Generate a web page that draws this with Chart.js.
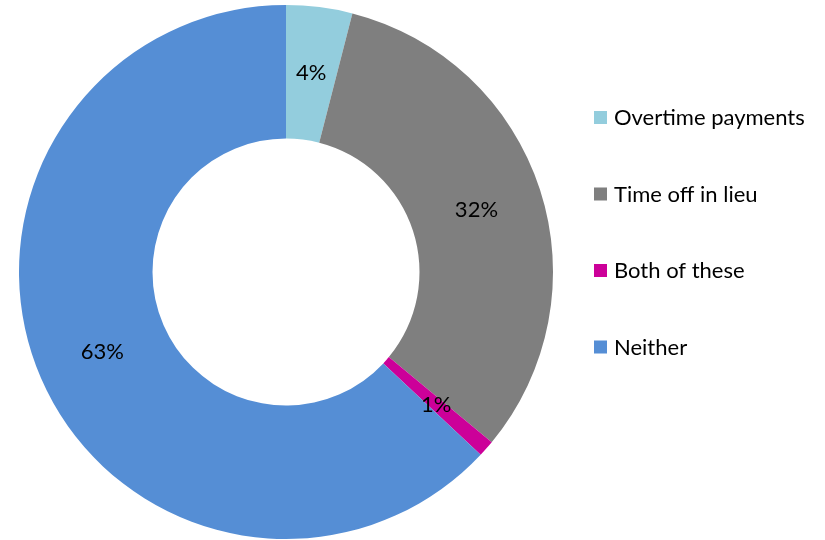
<!DOCTYPE html>
<html>
<head>
<meta charset="utf-8">
<script src="https://cdn.jsdelivr.net/npm/chart.js@4/dist/chart.umd.min.js"></script>
<style>
  html, body { margin: 0; padding: 0; background: #fff; }
  #wrap { position: relative; width: 825px; height: 540px; }
</style>
</head>
<body>
<div id="wrap"><canvas id="donut" width="825" height="540"></canvas></div>
<script>
// ── DATA ────────────────────────────────────────────────────────────────
const CATEGORIES = ['Overtime payments', 'Time off in lieu', 'Both of these', 'Neither'];
const SHARES     = [4, 32, 1, 63];
const COLORS     = ['#93CDDD', '#7F7F7F', '#CC0099', '#558ED5'];

const FONT = '"Lato", "Open Sans", sans-serif';

// percentage labels sit in the middle of each ring segment
const sliceLabels = {
  id: 'sliceLabels',
  afterDatasetsDraw(chart) {
    const { ctx } = chart;
    const meta = chart.getDatasetMeta(0);
    ctx.save();
    ctx.font = `22px ${FONT}`;
    ctx.fillStyle = '#000';
    ctx.textAlign = 'center';
    ctx.textBaseline = 'middle';
    meta.data.forEach((arc, i) => {
      const p = arc.tooltipPosition();
      ctx.fillText(SHARES[i] + '%', p.x, p.y);
    });
    ctx.restore();
  }
};

// legend column on the right
const sideLegend = {
  id: 'sideLegend',
  afterDraw(chart) {
    const { ctx } = chart;
    const x0 = 594, y0 = 117, gap = 76.5;
    ctx.save();
    ctx.font = `22px ${FONT}`;
    ctx.textBaseline = 'middle';
    ctx.textAlign = 'left';
    CATEGORIES.forEach((name, i) => {
      const y = y0 + i * gap;
      ctx.fillStyle = COLORS[i];
      ctx.fillRect(x0, y - 6, 13, 13);
      ctx.fillStyle = '#000';
      ctx.fillText(name, x0 + 20, y + 1);
    });
    ctx.restore();
  }
};

new Chart(document.getElementById('donut'), {
  type: 'doughnut',
  data: {
    labels: CATEGORIES,
    datasets: [{
      data: SHARES,
      backgroundColor: COLORS,
      borderWidth: 0,
    }]
  },
  options: {
    responsive: false,
    animation: false,
    cutout: '50%',
    layout: { padding: { left: 19, top: 5, bottom: 1, right: 272 } },
    plugins: { legend: { display: false }, tooltip: { enabled: false } }
  },
  plugins: [sliceLabels, sideLegend]
});
</script>
</body>
</html>
